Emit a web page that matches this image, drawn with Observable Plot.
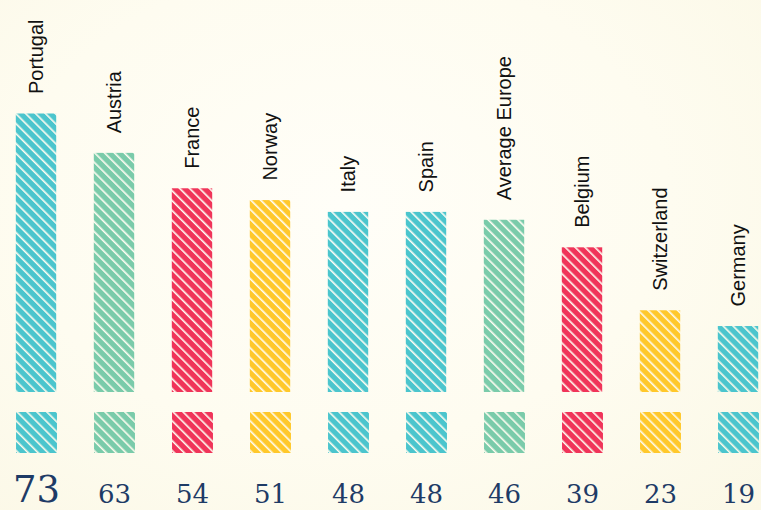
<!DOCTYPE html>
<html>
<head>
<meta charset="utf-8">
<script src="https://cdn.jsdelivr.net/npm/d3@7"></script>
<script src="https://cdn.jsdelivr.net/npm/@observablehq/plot@0.6"></script>
<style>
  html, body { margin: 0; padding: 0; }
  body {
    width: 761px; height: 510px; overflow: hidden;
    background: radial-gradient(ellipse at 45% 40%, #fffef8 0%, #fefcf0 55%, #fbf8e6 100%);
  }
</style>
</head>
<body>
<div id="chart"></div>
<script>
const countries = ["Portugal", "Austria", "France", "Norway", "Italy", "Spain", "Average Europe", "Belgium", "Switzerland", "Germany"];
const values = [73, 63, 54, 51, 48, 48, 46, 39, 23, 19];
const colorKeys = ["teal", "green", "red", "yellow", "teal", "teal", "green", "red", "yellow", "teal"];
const palette = {teal: "#4bc5cd", green: "#7acbaa", red: "#f03459", yellow: "#ffc82b"};

const data = countries.map((c, i) => ({country: c, value: values[i], key: colorKeys[i]}));
const maxValue = d3.max(values);
const hatch = d => `url(#hatch-${d.key})`;

const labelFont = "'Liberation Sans', Arial, sans-serif";
const valueFont = "'DejaVu Serif', 'Liberation Serif', serif";

const svg = Plot.plot({
  width: 761,
  height: 510,
  margin: 0,
  style: {background: "transparent", overflow: "visible"},
  x: {domain: countries, range: [-6.85, 779.85], padding: 0, axis: null},
  y: {domain: [0, 73], range: [400.8, 113.5], axis: null},
  color: {type: "identity"},
  marks: [
    Plot.barY(data, {x: "country", y: "value", fill: hatch, insetLeft: 18.8, insetRight: 18.8, insetBottom: 8.8}),
    Plot.dot(data, {x: "country", y: () => 0, symbol: "square", r: 23.1, dy: 31.2, fill: hatch, stroke: "none"}),
    Plot.text(data, {x: "country", y: "value", text: "country", rotate: -90, textAnchor: "start", dy: -20,
      fontSize: 20, fontWeight: "normal", fontFamily: labelFont, fill: "#111"}),
    Plot.text(data.filter(d => d.value !== maxValue), {x: "country", y: () => 0, text: d => String(d.value),
      lineAnchor: "bottom", dy: 102, fontSize: 26, fontFamily: valueFont, fill: "#1e3b66"}),
    Plot.text(data.filter(d => d.value === maxValue), {x: "country", y: () => 0, text: d => String(d.value),
      lineAnchor: "bottom", dy: 101, fontSize: 37, fontFamily: valueFont, fill: "#1e3b66"})
  ]
});

const defs = d3.select(svg).insert("defs", ":first-child");
for (const [k, col] of Object.entries(palette)) {
  const p = defs.append("pattern")
    .attr("id", `hatch-${k}`)
    .attr("patternUnits", "userSpaceOnUse")
    .attr("width", 7).attr("height", 7)
    .attr("patternTransform", "rotate(45)");
  p.append("rect").attr("x", 0).attr("y", 0).attr("width", 7).attr("height", 5.4).attr("fill", col);
}

document.getElementById("chart").append(svg);
</script>
</body>
</html>
